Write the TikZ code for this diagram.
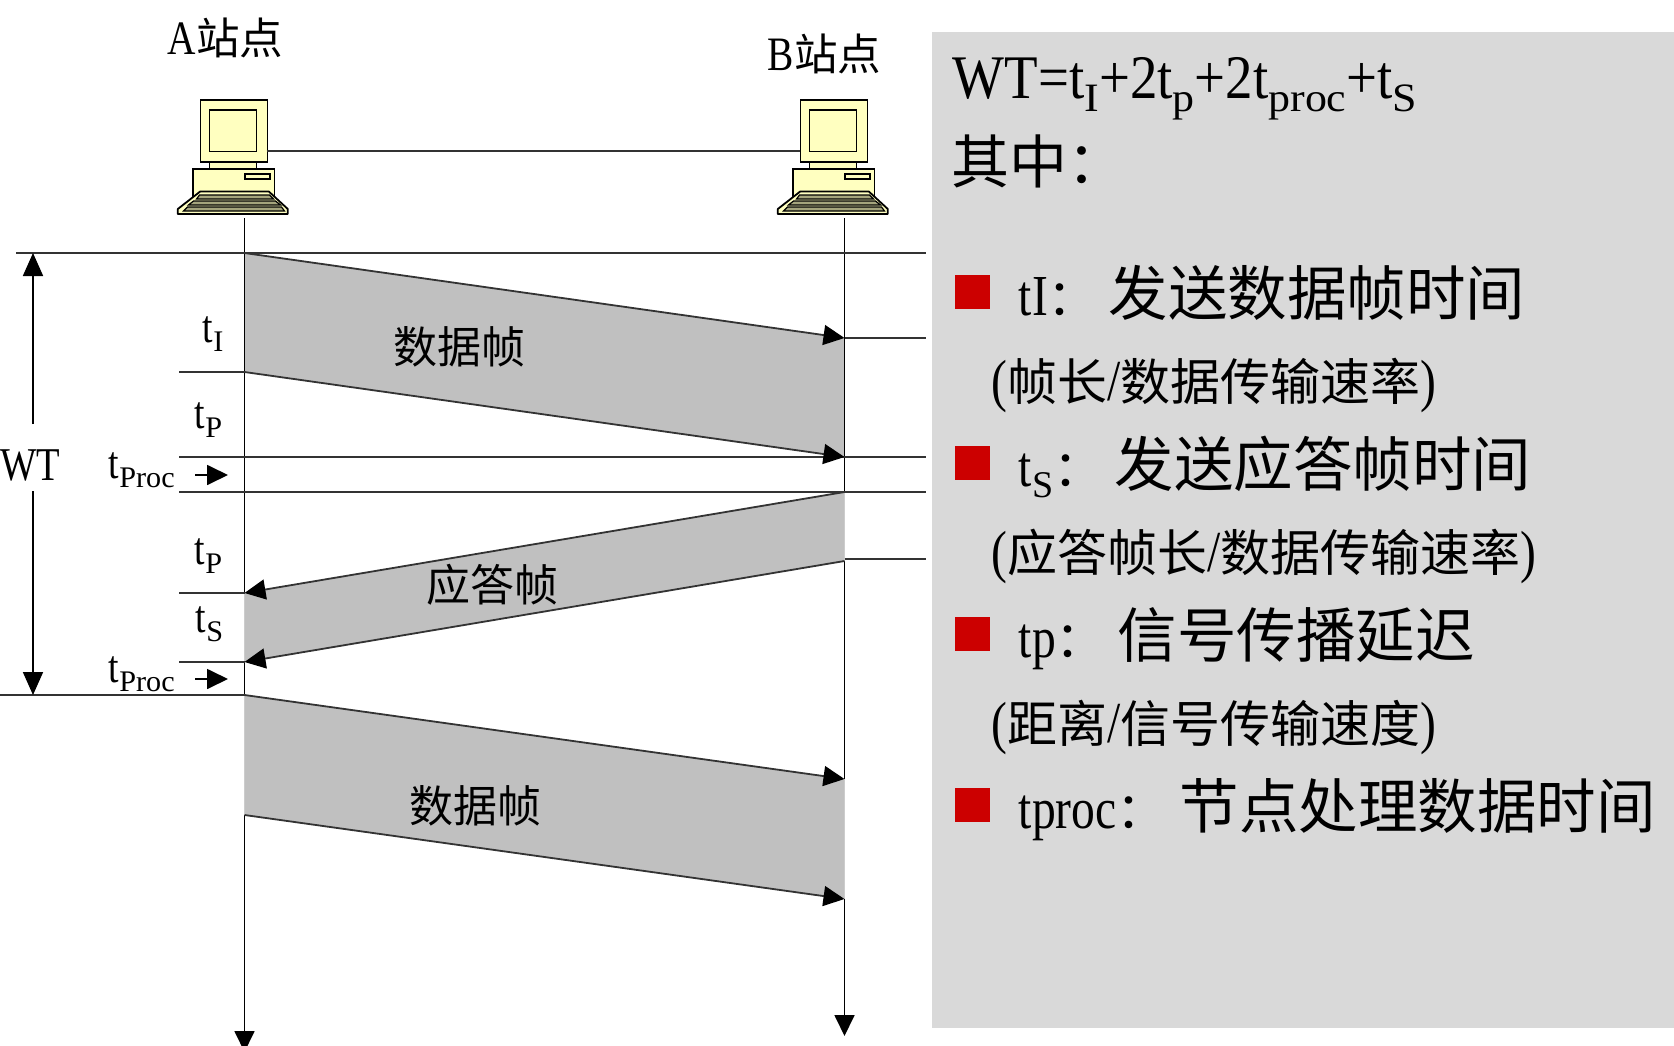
\documentclass[tikz,border=0pt]{standalone}
\usepackage{fontspec}
\usetikzlibrary{arrows.meta, positioning}
\setmainfont[FakeStretch=0.82]{Liberation Serif}
\newfontfamily\cjk{Noto Sans CJK SC}
\definecolor{framegray}{RGB}{192, 192, 192}
\definecolor{panelgray}{RGB}{217, 217, 217}
\definecolor{crtyellow}{RGB}{255, 255, 192}
\definecolor{keyolive}{RGB}{165, 165, 125}
\definecolor{bulletred}{RGB}{204, 0, 0}
\definecolor{rulegray}{RGB}{51, 51, 51}
\newcommand{\lowsub}[1]{\raisebox{-.2em}{\scalebox{.8}[.65]{#1}}}
\newcommand{\fsz}[1]{\fontsize{#1}{#1}\selectfont}

\begin{document}
\begin{tikzpicture}[
    x=1pt, y=-1pt,
    line width=1.8pt,
    station/.style={inner sep=0, anchor=base west, font=\fsz{48}},
    framelabel/.style={inner sep=0, font=\cjk\fsz{44}},
    timelabel/.style={inner sep=0, anchor=base west, font=\fsz{46}},
    panelline/.style={inner sep=0, anchor=base west, font=\fsz{58}},
    bullet/.style={fill=bulletred, draw=none, minimum width=35pt, minimum height=34pt, inner sep=0},
    rule/.style={draw=rulegray},
    life/.style={draw=black},
    hair/.style={draw=white!80!black, line width=1pt},
    signal/.style={draw=rulegray, -{Triangle[length=21pt,width=20pt,color=black,fill=black]}},
    wtarrow/.style={draw=black, -{Triangle[length=23pt,width=20pt]}},
    tiptick/.style={draw=black, -{Triangle[length=21pt,width=20pt]}},
    computer/.pic={
        \draw[fill=crtyellow] (10,62) rectangle (57,70);
        \draw[fill=crtyellow] (-6.7,70) rectangle (75,100);
        \draw[fill=crtyellow] (45.3,75) rectangle (70.7,80);
        \node[draw, fill=crtyellow, minimum width=67pt, minimum height=62.5pt, inner sep=0, anchor=north west] (-box) at (0,0) {};
        \draw[fill=crtyellow] (10,11) rectangle (57,52.5);
        \draw[fill=crtyellow, line join=round] (0.7,92.5) -- (69.3,92.5) -- (88.3,110) -- (88.3,115) -- (-21.7,115) -- (-21.7,110) -- cycle;
        \draw[fill=keyolive, line width=1.2pt] (0,96) -- (70,96) -- (74,100) -- (-3,100) -- cycle;
        \draw[fill=keyolive, line width=1.2pt] (-6,102) -- (76,102) -- (81,106) -- (-11,106) -- cycle;
        \draw[fill=keyolive, line width=1.2pt] (-12,108) -- (82,108) -- (85,112) -- (-16,112) -- cycle;
        \coordinate (-east) at (67,52);
        \coordinate (-west) at (0,52);
    }
]
    \useasboundingbox (0,0) rectangle (1674,1046);

    % Panel
    \fill[panelgray] (932,32) rectangle (1674,1028);

    % Stations
    \pic (sta) at (199.5,99) {computer};
    \pic (stb) at (799.5,99) {computer};
    \draw[rule] (sta-east) -- (stb-west);
    \node[station] (namea) at (167,55) {A{\cjk\fsz{43.5}站点}};
    \node[station] (nameb) at (767,71) {B{\cjk\fsz{43.5}站点}};

    % Time points on the two axes
    \coordinate (atop) at (244.5,218);
    \coordinate (btop) at (844.5,218);
    \coordinate (a1) at (244.5,253);
    \coordinate (a2) at (244.5,372);
    \coordinate (a3) at (244.5,593);
    \coordinate (a4) at (244.5,662);
    \coordinate (a5) at (244.5,695);
    \coordinate (a6) at (244.5,815);
    \coordinate (aend) at (244.5,1052);
    \coordinate (b1) at (844.5,338);
    \coordinate (b2) at (844.5,457);
    \coordinate (b3) at (844.5,492);
    \coordinate (b4) at (844.5,561);
    \coordinate (b5) at (844.5,779);
    \coordinate (b6) at (844.5,899);
    \coordinate (bend) at (844.5,1036);

    % Frames
    \fill[framegray] (a1) -- (b1) -- (b2) -- (a2) -- cycle;
    \fill[framegray] (b3) -- (a3) -- (a4) -- (b4) -- cycle;
    \fill[framegray] (a5) -- (b5) -- (b6) -- (a6) -- cycle;

    % Axes
    \draw[life] (atop) -- (a3);
    \draw[hair] (a3) -- (a4);
    \draw[life] (a4) -- (a5);
    \draw[hair] (a5) -- (a6);
    \draw[tiptick] (a6) -- (aend);
    \draw[life] (btop) -- (b3);
    \draw[hair] (b3) -- (b4);
    \draw[life] (b4) -- (b5);
    \draw[hair] (b5) -- (b6);
    \draw[tiptick] (b6) -- (bend);

    % Time rules
    \coordinate (l1) at (16,253);
    \coordinate (r1) at (926,253);
    \coordinate (r2) at (926,338);
    \coordinate (l3) at (179,372);
    \coordinate (l4) at (179,457);
    \coordinate (r4) at (926,457);
    \coordinate (l5) at (179,492);
    \coordinate (r5) at (926,492);
    \coordinate (r6) at (926,559);
    \coordinate (l7) at (179,593);
    \coordinate (l8) at (179,662);
    \coordinate (l9) at (0,695);
    \draw[rule] (l1) -- (r1);
    \draw[rule] (b1) -- (r2);
    \draw[rule] (l3) -- (a2);
    \draw[rule] (l4) -- (r4);
    \draw[rule] (l5) -- (r5);
    \draw[rule] (b4 |- r6) -- (r6);
    \draw[rule] (l7) -- (a3);
    \draw[rule] (l8) -- (a4);
    \draw[rule] (l9) -- (a5);

    % Frame edges
    \draw[signal] (a1) -- (b1);
    \draw[signal] (a2) -- (b2);
    \draw[signal] (b3) -- (a3);
    \draw[signal] (b4) -- (a4);
    \draw[signal] (a5) -- (b5);
    \draw[signal] (a6) -- (b6);

    \node[framelabel] (frame1) at (459,347) {数据帧};
    \node[framelabel] (ack) at (492,585) {应答帧};
    \node[framelabel] (frame2) at (475,806) {数据帧};

    % WT span
    \node[inner sep=0, font=\fsz{47}] (wt) at (30,465) {WT};
    \coordinate (wtup) at (33,424);
    \coordinate (wttop) at (33,253);
    \coordinate (wtdown) at (33,491);
    \coordinate (wtbot) at (33,695);
    \draw[wtarrow] (wtup) -- (wttop);
    \draw[wtarrow] (wtdown) -- (wtbot);

    % Time labels
    \node[timelabel] (ti) at (202,342) {t\lowsub{I}};
    \node[timelabel] (tp1) at (194,428) {t\lowsub{P}};
    \node[timelabel] (tproc1) at (108,478) {t\lowsub{Proc}};
    \node[timelabel] (tp2) at (194,564) {t\lowsub{P}};
    \node[timelabel] (ts) at (195,632) {t\lowsub{S}};
    \node[timelabel] (tproc2) at (108,682) {t\lowsub{Proc}};
    \coordinate (p1a) at (195,475);
    \coordinate (p1b) at (228,475);
    \coordinate (p2a) at (195,679);
    \coordinate (p2b) at (228,679);
    \draw[tiptick] (p1a) -- (p1b);
    \draw[tiptick] (p2a) -- (p2b);

    % Panel text
    \node[panelline, font=\fsz{62}] (formula) at (952,99) {\scalebox{1.08}[1]{WT=t\lowsub{I}+2t\lowsub{p}+2t\lowsub{proc}+t\lowsub{S}}};
    \node[panelline, font=\cjk\fsz{58}] (qizhong) at (951,183) {其中：};

    \node[bullet] (b1) at (972,292) {};
    \node[panelline] (item1) at (1018,315) {\makebox[90pt][l]{tI{\cjk\fsz{50}：}}{\cjk\fsz{59.5}发送数据帧时间}};
    \node[panelline] (note1) at (991,400) {({\cjk\fsz{50}帧长}/{\cjk\fsz{50}数据传输速率})};

    \node[bullet] (b2) at (972,463) {};
    \node[panelline] (item2) at (1018,486) {\makebox[96pt][l]{t\lowsub{S}{\cjk\fsz{50}：}}{\cjk\fsz{59.5}发送应答帧时间}};
    \node[panelline] (note2) at (991,571) {({\cjk\fsz{50}应答帧长}/{\cjk\fsz{50}数据传输速率})};

    \node[bullet] (b3) at (972,634) {};
    \node[panelline] (item3) at (1018,657) {\makebox[99pt][l]{tp{\cjk\fsz{50}：}}{\cjk\fsz{59.5}信号传播延迟}};
    \node[panelline] (note3) at (991,742) {({\cjk\fsz{50}距离}/{\cjk\fsz{50}信号传输速度})};

    \node[bullet] (b4) at (972,805) {};
    \node[panelline] (item4) at (1018,828) {\makebox[161pt][l]{tproc{\cjk\fsz{50}：}}{\cjk\fsz{59.5}节点处理数据时间}};
\end{tikzpicture}
\end{document}
